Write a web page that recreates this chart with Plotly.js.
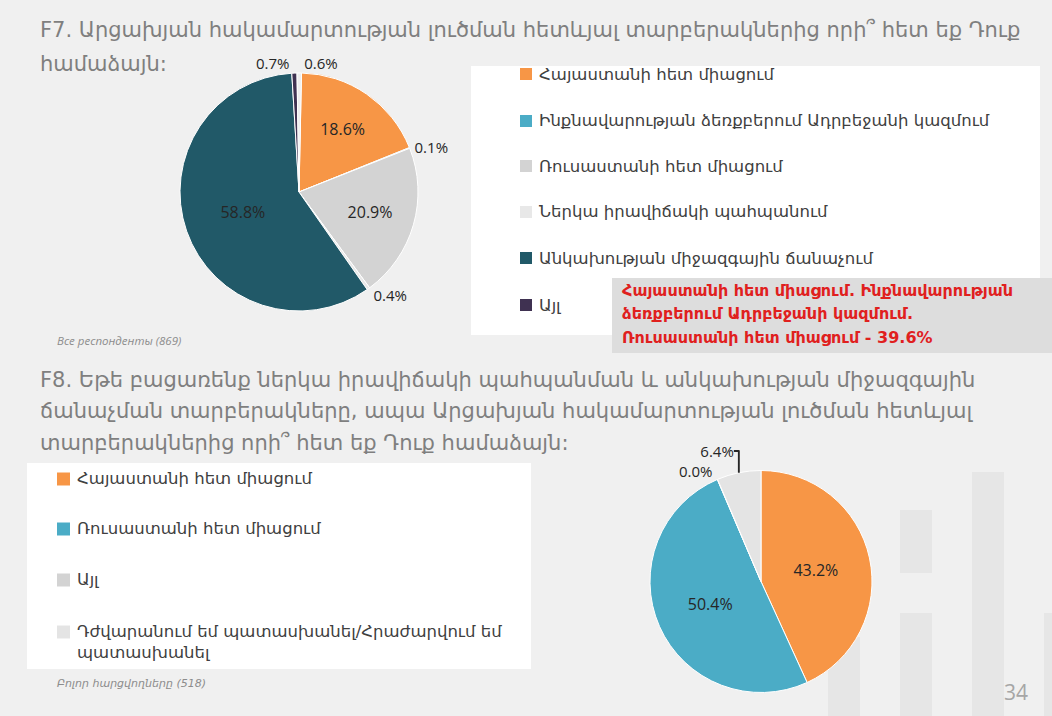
<!DOCTYPE html>
<html><head><meta charset="utf-8">
<script src="https://cdn.plot.ly/plotly-3.0.1.min.js"></script>
<style>html,body{margin:0;padding:0;background:#f0f0f0;}#chart{width:1052px;height:716px;}</style>
</head><body><div id="chart"></div>
<script>
// ---- data ----
const f7TitleLines = ["F7. Արցախյան հակամարտության լուծման հետևյալ տարբերակներից որի՞ հետ եք Դուք", "համաձայն:"];
const f7Labels = ["Հայաստանի հետ միացում", "Ինքնավարության ձեռքբերում Ադրբեջանի կազմում", "Ռուսաստանի հետ միացում", "Ներկա իրավիճակի պահպանում", "Անկախության միջազգային ճանաչում", "Այլ", "Դժվարանում եմ պատասխանել"];
const f7Values = [18.6, 0.1, 20.9, 0.4, 58.8, 0.7, 0.6];
const f7Colors = ["#F79646", "#4BACC6", "#D3D3D3", "#E8E8E8", "#215968", "#3F3151", "#EDEDED"];
const f7LegendCount = 6;
const f7Note = "Все респонденты (869)";
const f7CalloutLines = ["Հայաստանի հետ միացում. Ինքնավարության", "ձեռքբերում Ադրբեջանի կազմում.", "Ռուսաստանի հետ միացում - 39.6%"];

const f8TitleLines = ["F8. Եթե բացառենք ներկա իրավիճակի պահպանման և անկախության միջազգային", "ճանաչման տարբերակները, ապա Արցախյան հակամարտության լուծման հետևյալ", "տարբերակներից որի՞ հետ եք Դուք համաձայն:"];
const f8Labels = ["Հայաստանի հետ միացում", "Ռուսաստանի հետ միացում", "Այլ", "Դժվարանում եմ պատասխանել/Հրաժարվում եմ<br>պատասխանել"];
const f8Values = [43.2, 50.4, 0.04, 6.4];
const f8Colors = ["#F79646", "#4BACC6", "#D3D3D3", "#E4E4E4"];
const f8Note = "Բոլոր հարցվողները (518)";
const pageNumber = "34";

// ---- helpers (pixel -> paper) ----
const W = 1052, H = 716;
const px = x => x / W;
const py = y => 1 - y / H;
const FONT = "DejaVu Sans, Noto Sans, sans-serif";
const NUMFONT = "Open Sans, Noto Sans, sans-serif";

function pieTrace(labels, values, colors, box, rotation) {
  return {
    type: "pie", labels: labels, values: values, sort: false, direction: "clockwise", rotation: rotation,
    marker: {colors: colors, line: {color: "#ffffff", width: 1}},
    texttemplate: "%{value:.1f}%", textinfo: "text", textposition: "auto",
    insidetextorientation: "horizontal",
    textfont: {family: NUMFONT, size: 16, color: "#262626"},
    outsidetextfont: {family: NUMFONT, size: 15, color: "#262626"},
    domain: {x: [px(box[0]), px(box[2])], y: [py(box[3]), py(box[1])]},
    showlegend: false, hoverinfo: "label+value"
  };
}
const traces = [
  pieTrace(f7Labels, f7Values, f7Colors, [180, 73, 418, 311], 1.2),
  pieTrace(f8Labels, f8Values, f8Colors, [650, 470, 872, 693], 0)
];

const shapes = [];
const annotations = [];
function txt(x, y, text, font, opts) {
  annotations.push(Object.assign({xref: "paper", yref: "paper", x: px(x), y: py(y), xanchor: "left", yanchor: "middle",
    align: "left", text: text, showarrow: false, font: font}, opts || {}));
}
function box(x0, y0, x1, y1, color, layer) {
  shapes.push({type: "rect", xref: "paper", yref: "paper", x0: px(x0), x1: px(x1), y0: py(y1), y1: py(y0),
    fillcolor: color, line: {width: 0}, layer: layer || "above"});
}

// background decorative bars
[[828, 637, 860, 716], [900, 510, 932, 573], [900, 613, 932, 716], [972, 472, 1004, 716], [1044, 613, 1076, 716]]
  .forEach(b => box(b[0], b[1], b[2], b[3], "#E6E6E6", "below"));

// legend boxes + callout box
box(471, 66, 1040, 335, "#ffffff", "below");
box(27, 463, 531, 669, "#ffffff", "below");
box(612, 278, 1052, 353, "#DDDDDD", "above");

// titles
const titleFont = {family: FONT, size: 21, color: "#7F7F7F"};
[30, 64].forEach((y, i) => txt(38, y, f7TitleLines[i], titleFont));
[380, 411, 443].forEach((y, i) => txt(38, y, f8TitleLines[i], titleFont));

// legend 1
const legFont = {family: FONT, size: 16.5, color: "#404040"};
const leg1Y = [74, 121, 166, 212, 258, 305];
for (let i = 0; i < f7LegendCount; i++) {
  const y = leg1Y[i];
  box(520, y - 6, 532, y + 6, f7Colors[i]);
  txt(537, y, f7Labels[i], legFont);
}
// legend 2
const leg2Y = [479, 529, 580, 632];
for (let i = 0; i < f8Labels.length; i++) {
  const y = leg2Y[i];
  box(57, y - 6.5, 70, y + 6.5, f8Colors[i]);
  txt(75, y - 12, f8Labels[i], legFont, {yanchor: "top"});
}

// callout text
const calloutFont = {family: FONT, size: 16, color: "#E0201E"};
[290, 313, 337].forEach((y, i) => txt(620, y, "<b>" + f7CalloutLines[i] + "</b>", calloutFont));

// notes
txt(55, 340, "<i>" + f7Note + "</i>", {family: NUMFONT, size: 11.5, color: "#8C8C8C"});
txt(55, 683, "<i>" + f8Note + "</i>", {family: FONT, size: 11, color: "#8C8C8C"});
txt(1030, 692, pageNumber, {family: NUMFONT, size: 21, color: "#A6A6A6"}, {xanchor: "right"});

const layout = {
  width: W, height: H, margin: {l: 0, r: 0, t: 0, b: 0},
  paper_bgcolor: "#F0F0F0", plot_bgcolor: "#F0F0F0",
  showlegend: false, shapes: shapes, annotations: annotations
};
Plotly.newPlot("chart", traces, layout, {displayModeBar: false, staticPlot: true});
</script></body></html>
